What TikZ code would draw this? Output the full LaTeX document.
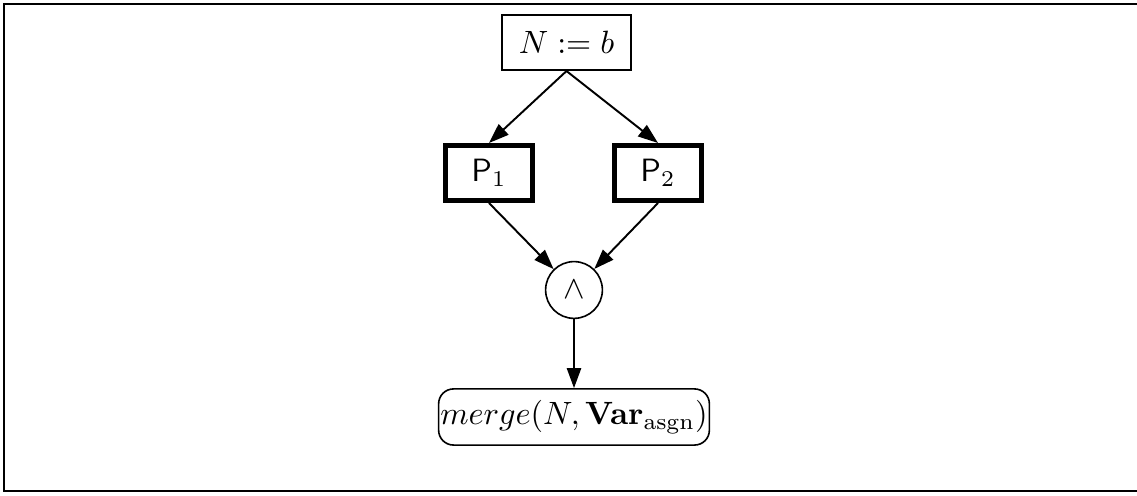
\documentclass[tikz,border=0pt]{standalone}
\usetikzlibrary{arrows.meta}
\begin{document}
\begin{tikzpicture}[x=0.31pt,y=-0.31pt,
  conn/.style={line width=0.6pt,-{Triangle[length=6.2pt,width=4.4pt]}},
  plainbox/.style={draw,line width=0.5pt,minimum width=40.1pt,minimum height=17.2pt,inner sep=1pt},
  procbox/.style={draw,line width=1.6pt,minimum width=27pt,minimum height=17pt,inner sep=1pt},
  andnode/.style={draw,circle,line width=0.5pt,minimum size=17.6pt,inner sep=0pt},
  resbox/.style={draw,rounded corners=4.6pt,line width=0.5pt,minimum width=80.6pt,minimum height=17.4pt,inner sep=0.5pt}]
\useasboundingbox (0,0) rectangle (1137,496);
\draw[line width=0.62pt] (1140,4.3) -- (4.3,4.3) -- (4.3,491.5) -- (1140,491.5);
\node[plainbox] (n) at (566.5,42.5) {$N := b$};
\node[procbox] (p1) at (489,173) {$\mathsf{P}_1$};
\node[procbox] (p2) at (658,173) {$\mathsf{P}_2$};
\node[andnode] (a) at (574,290) {$\wedge$};
\node[resbox] (m) at (574,417) {$merge(N, \mathbf{Var}_{\mathrm{asgn}})$};
\draw[conn] (n.south) -- (p1.north);
\draw[conn] (n.south) -- (p2.north);
\draw[conn] (p1.south) -- (a);
\draw[conn] (p2.south) -- (a);
\draw[conn] (a) -- (m);
\end{tikzpicture}
\end{document}
